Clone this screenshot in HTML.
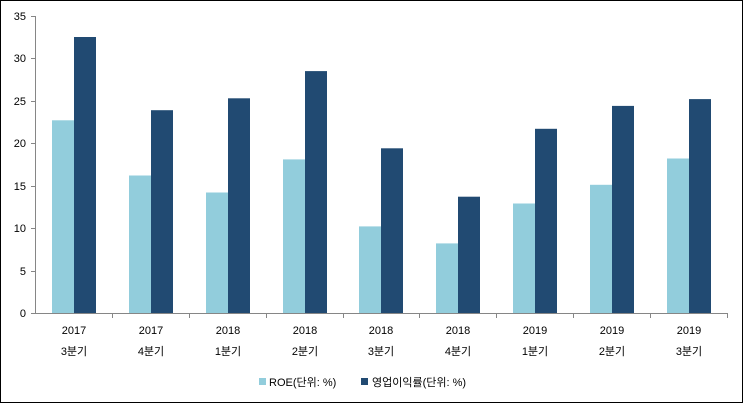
<!DOCTYPE html>
<html><head><meta charset="utf-8"><style>
html,body{margin:0;padding:0;background:#fff}
svg{display:block}
text{font-family:"Liberation Sans","Noto Sans CJK KR",sans-serif;font-size:11px;fill:#000}
</style></head><body>
<svg width="743" height="403" xmlns="http://www.w3.org/2000/svg">
<rect x="0.5" y="0.5" width="742" height="402" fill="#fff" stroke="#000"/>
<g id="bars"></g>
<line x1="35.5" y1="16" x2="35.5" y2="313" stroke="#868686"/>
<line x1="35" y1="313.5" x2="727" y2="313.5" stroke="#868686"/>
<g stroke="#868686">
<line x1="31" y1="16.5" x2="35" y2="16.5"/><line x1="31" y1="58.5" x2="35" y2="58.5"/>
<line x1="31" y1="101.5" x2="35" y2="101.5"/><line x1="31" y1="143.5" x2="35" y2="143.5"/>
<line x1="31" y1="186.5" x2="35" y2="186.5"/><line x1="31" y1="228.5" x2="35" y2="228.5"/>
<line x1="31" y1="271.5" x2="35" y2="271.5"/><line x1="31" y1="313.5" x2="35" y2="313.5"/>
</g>
<g text-anchor="end">
<text x="26" y="20">35</text><text x="26" y="62">30</text><text x="26" y="105">25</text>
<text x="26" y="147">20</text><text x="26" y="190">15</text><text x="26" y="232">10</text>
<text x="26" y="275">5</text><text x="26" y="317">0</text>
</g>
<g fill="#92cddc">
<rect x="52" y="120.3" width="22" height="192.7"/>
<rect x="129" y="175.5" width="22" height="137.5"/>
<rect x="206" y="192.5" width="22" height="120.5"/>
<rect x="283" y="159.4" width="22" height="153.6"/>
<rect x="359" y="226.4" width="22" height="86.6"/>
<rect x="436" y="243.4" width="22" height="69.6"/>
<rect x="513" y="203.5" width="22" height="109.5"/>
<rect x="590" y="184.8" width="22" height="128.2"/>
<rect x="667" y="158.5" width="22" height="154.5"/>
</g>
<g fill="#214a72">
<rect x="74" y="37" width="22" height="276"/>
<rect x="151" y="110.2" width="22" height="202.8"/>
<rect x="228" y="98.3" width="22" height="214.7"/>
<rect x="305" y="71.1" width="22" height="241.9"/>
<rect x="381" y="148.3" width="22" height="164.7"/>
<rect x="458" y="196.7" width="22" height="116.3"/>
<rect x="535" y="128.8" width="22" height="184.2"/>
<rect x="612" y="105.9" width="22" height="207.1"/>
<rect x="689" y="99.1" width="22" height="213.9"/>
</g>
<g stroke="#868686">
<line x1="112.5" y1="313" x2="112.5" y2="318"/><line x1="189.5" y1="313" x2="189.5" y2="318"/>
<line x1="266.5" y1="313" x2="266.5" y2="318"/><line x1="343.5" y1="313" x2="343.5" y2="318"/>
<line x1="419.5" y1="313" x2="419.5" y2="318"/><line x1="496.5" y1="313" x2="496.5" y2="318"/>
<line x1="573.5" y1="313" x2="573.5" y2="318"/><line x1="650.5" y1="313" x2="650.5" y2="318"/>
<line x1="727.5" y1="313" x2="727.5" y2="318"/>
</g>
<g text-anchor="middle">
<text x="74" y="334">2017</text><text x="74" y="355">3분기</text>
<text x="151" y="334">2017</text><text x="151" y="355">4분기</text>
<text x="228" y="334">2018</text><text x="228" y="355">1분기</text>
<text x="305" y="334">2018</text><text x="305" y="355">2분기</text>
<text x="381" y="334">2018</text><text x="381" y="355">3분기</text>
<text x="458" y="334">2018</text><text x="458" y="355">4분기</text>
<text x="535" y="334">2019</text><text x="535" y="355">1분기</text>
<text x="612" y="334">2019</text><text x="612" y="355">2분기</text>
<text x="689" y="334">2019</text><text x="689" y="355">3분기</text>
</g>
<rect x="259" y="378" width="7" height="7" fill="#92cddc"/>
<text x="269" y="386">ROE(단위: %)</text>
<rect x="361" y="378" width="7" height="7" fill="#214a72"/>
<text x="372" y="386">영업이익률(단위: %)</text>
</svg>
</body></html>
